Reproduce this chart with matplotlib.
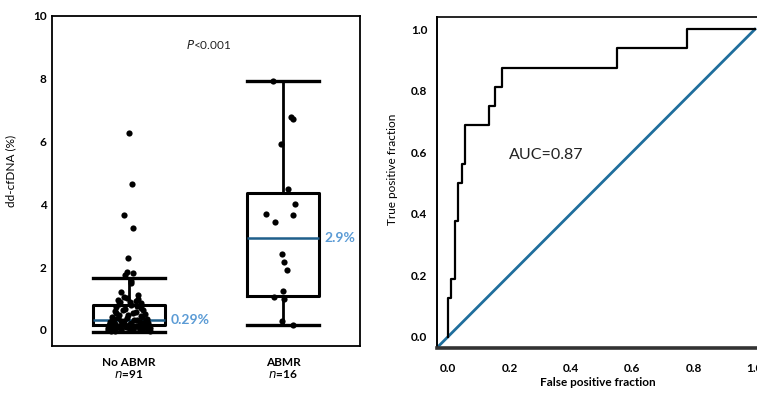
import numpy as np
import matplotlib
matplotlib.use("Agg")
import matplotlib.pyplot as plt

plt.rcParams['font.family'] = ['Lato', 'DejaVu Sans']

# dd-cfDNA values (%)
no_abmr = [6.26, 4.65, 3.66, 3.26, 2.30, 1.84, 1.80, 1.75, 1.57, 1.49, 1.22,
           1.10, 1.05, 1.02, 0.98, 0.95, 0.93, 0.90, 0.88, 0.85, 0.82,
           0.78, 0.75, 0.72, 0.70, 0.68, 0.65, 0.62, 0.60, 0.58, 0.55,
           0.53, 0.50, 0.48, 0.46, 0.44, 0.42, 0.40, 0.38, 0.37, 0.35,
           0.34, 0.33, 0.31, 0.30, 0.29, 0.28, 0.27, 0.26, 0.25, 0.24,
           0.23, 0.22, 0.21, 0.20, 0.19, 0.18, 0.17, 0.16, 0.15, 0.14,
           0.13, 0.12, 0.12, 0.11, 0.10, 0.10, 0.09, 0.08, 0.08, 0.07,
           0.06, 0.06, 0.05, 0.05, 0.04, 0.04, 0.03, 0.03, 0.02, 0.02,
           0.01, 0.01, 0.00, 0.00, -0.01, -0.02, -0.03, -0.05, 0.11, 0.09, 0.24]
abmr = [7.92, 6.77, 6.72, 5.92, 4.50, 4.01, 3.70, 3.66, 3.43, 2.42,
        2.17, 1.91, 1.24, 1.04, 0.98, 0.28, 0.16]
abmr_dx = [-0.065, 0.055, 0.068, -0.01, 0.03, 0.075, -0.108, 0.062, -0.05,
           -0.005, 0.004, 0.026, 0.002, -0.060, 0.007, -0.008, 0.065]

groups = ['No ABMR', 'ABMR']
group_n = [91, 16]
# box summary (q1, median, q3, whiskers) as drawn in the figure
q1 = [0.15, 1.09]
med = [0.31, 2.92]
q3 = [0.79, 4.37]
whislo = [-0.08, 0.15]
whishi = [1.65, 7.93]
med_labels = ['0.29%', '2.9%']

# ROC curve
fpr = [0.0, 0.0, 0.011, 0.022, 0.033, 0.044, 0.055, 0.132, 0.154, 0.176, 0.549, 0.780, 1.0]
tpr = [0.0, 0.125, 0.1875, 0.375, 0.5, 0.5625, 0.6875, 0.75, 0.8125, 0.875, 0.9375, 1.0, 1.0]
auc = 0.87

med_color = '#1f5f8b'
lbl_color = '#5b9bd5'
diag_color = '#1f6e9c'

fig = plt.figure(figsize=(7.57, 3.95), dpi=100)
ax1 = fig.add_axes([0.0687, 0.125, 0.4069, 0.8345])
ax2 = fig.add_axes([0.5773, 0.1197, 0.4240, 0.8373])

# ---- left: box + strip
stats = []
for i in range(2):
    stats.append({'q1': q1[i], 'med': med[i], 'q3': q3[i],
                  'whislo': whislo[i], 'whishi': whishi[i], 'fliers': []})
ax1.bxp(stats, positions=[0, 1], widths=0.47, showfliers=False,
        boxprops=dict(color='black', lw=2.2),
        whiskerprops=dict(color='black', lw=2),
        capprops=dict(color='black', lw=2.4),
        medianprops=dict(color=med_color, lw=1.8), capwidths=0.47)

# deterministic jitter for the crowded group
vals = np.array(no_abmr)
k = np.arange(len(vals))
spread = np.clip(0.14 - 0.07 * vals, 0.03, 0.14)
dx = spread * np.sin(k * 2.39996)
ax1.scatter(dx, vals, s=20, color='black', zorder=5, linewidths=0)
ax1.scatter(1 + np.array(abmr_dx), abmr, s=20, color='black', zorder=5, linewidths=0)

for i in range(2):
    ax1.text(i + 0.27, med[i], med_labels[i], color=lbl_color, fontsize=10,
             fontweight='bold', va='center', ha='left')

ax1.text(0.515, 9.1, r'$\it{P}$<0.001', fontsize=8.5, ha='center', va='center', color='#222222')
ax1.set_xlim(-0.5, 1.5)
ax1.set_ylim(-0.5, 10)
ax1.set_yticks([0, 2, 4, 6, 8, 10])
ax1.set_xticks([0, 1])
ax1.set_xticklabels([f'{g}\n$\\it{{n}}$={n}' for g, n in zip(groups, group_n)],
                    fontsize=8.5, fontweight='bold', linespacing=1.0)
ax1.tick_params(axis='y', length=0, pad=4, labelsize=8.5)
ax1.tick_params(axis='x', length=0, pad=8)
for t in ax1.get_yticklabels():
    t.set_fontweight('bold')
ax1.set_ylabel('dd-cfDNA (%)', fontsize=8.5)
ax1.yaxis.set_label_coords(-0.115, 0.53)
for s in ax1.spines.values():
    s.set_linewidth(1.3)

# ---- right: ROC
ax2.plot([-0.036, 1.0], [-0.036, 1.0], color=diag_color, lw=2)
ax2.plot(fpr, tpr, color='black', lw=1.6, drawstyle='steps-post')
ax2.text(0.32, 0.59, f'AUC={auc}', fontsize=11.5, ha='center', va='center', color='#222222')
ax2.set_xlim(-0.036, 1.01)
ax2.set_ylim(-0.036, 1.04)
ax2.set_xticks(np.arange(0, 1.01, 0.2))
ax2.set_yticks(np.arange(0, 1.01, 0.2))
ax2.xaxis.set_major_formatter(matplotlib.ticker.FormatStrFormatter('%.1f'))
ax2.yaxis.set_major_formatter(matplotlib.ticker.FormatStrFormatter('%.1f'))
ax2.tick_params(axis='both', length=0, labelsize=8.5)
ax2.tick_params(axis='x', pad=11)
ax2.tick_params(axis='y', pad=7)
for t in ax2.get_xticklabels() + ax2.get_yticklabels():
    t.set_fontweight('bold')
ax2.set_xlabel('False positive fraction', fontsize=8.5, fontweight='bold', labelpad=2)
ax2.set_ylabel('True positive fraction', fontsize=8.5)
ax2.yaxis.set_label_coords(-0.12, 0.54)
ax2.spines['right'].set_visible(False)
ax2.spines['left'].set_linewidth(1.4)
ax2.spines['top'].set_linewidth(1.2)
ax2.spines['bottom'].set_linewidth(2.6)
ax2.spines['bottom'].set_color('#333333')

fig.savefig('out.png', dpi=100)
